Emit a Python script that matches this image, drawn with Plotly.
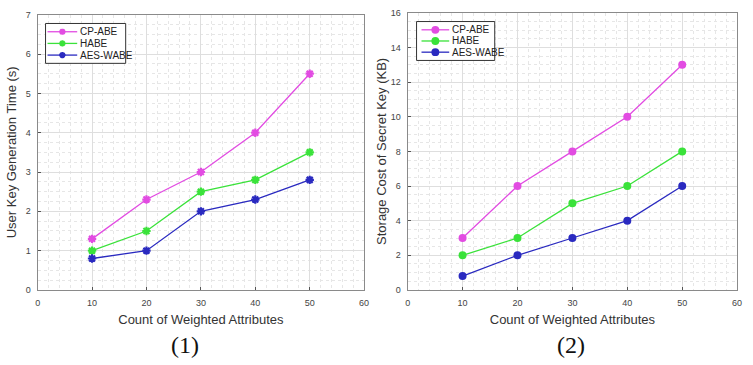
import plotly.graph_objects as go

# Data
attrs = [10, 20, 30, 40, 50]
series_names = ["CP-ABE", "HABE", "AES-WABE"]
series_colors = ["#e24ce2", "#3ae23a", "#2a2ac0"]

keygen_time = {
    "CP-ABE": [1.3, 2.3, 3.0, 4.0, 5.5],
    "HABE": [1.0, 1.5, 2.5, 2.8, 3.5],
    "AES-WABE": [0.8, 1.0, 2.0, 2.3, 2.8],
}
key_storage = {
    "CP-ABE": [3, 6, 8, 10, 13],
    "HABE": [2, 3, 5, 6, 8],
    "AES-WABE": [0.8, 2, 3, 4, 6],
}

x_ticks = [0, 10, 20, 30, 40, 50, 60]

W, H = 753, 365


def px(x):
    return x / W


def py(y):
    return 1 - y / H


fig = go.Figure()

for name, color in zip(series_names, series_colors):
    fig.add_trace(go.Scatter(
        x=attrs, y=keygen_time[name], name=name, mode="lines+markers",
        line=dict(color=color, width=1.3),
        marker=dict(symbol="asterisk-open", size=7, line=dict(color=color, width=2.2)),
        xaxis="x", yaxis="y", showlegend=False,
    ))
for name, color in zip(series_names, series_colors):
    fig.add_trace(go.Scatter(
        x=attrs, y=key_storage[name], name=name, mode="lines+markers",
        line=dict(color=color, width=1.3),
        marker=dict(symbol="circle", size=8, color=color),
        xaxis="x2", yaxis="y2", showlegend=False,
    ))

# Compact boxed legends drawn as shapes + text
shapes = []
annotations = []


def add_legend(box, rows_y, line_x, text_x, marker):
    x0, y0, x1, y1 = box
    shapes.append(dict(type="rect", xref="paper", yref="paper",
                       x0=px(x0), x1=px(x1), y0=py(y0), y1=py(y1),
                       fillcolor="white", line=dict(color="#333", width=1)))
    for name, color, ry in zip(series_names, series_colors, rows_y):
        shapes.append(dict(type="line", xref="paper", yref="paper",
                           x0=px(line_x[0]), x1=px(line_x[1]), y0=py(ry), y1=py(ry),
                           line=dict(color=color, width=1.3)))
        cx = (line_x[0] + line_x[1]) / 2
        if marker == "circle":
            r = 4
            shapes.append(dict(type="circle", xref="paper", yref="paper",
                               x0=px(cx - r), x1=px(cx + r), y0=py(ry + r), y1=py(ry - r),
                               fillcolor=color, line=dict(color=color, width=0)))
        else:
            r = 3.2
            d = r * 0.72
            path = (f"M{px(cx - r)},{py(ry)} L{px(cx + r)},{py(ry)} "
                    f"M{px(cx)},{py(ry - r)} L{px(cx)},{py(ry + r)} "
                    f"M{px(cx - d)},{py(ry - d)} L{px(cx + d)},{py(ry + d)} "
                    f"M{px(cx - d)},{py(ry + d)} L{px(cx + d)},{py(ry - d)}")
            shapes.append(dict(type="path", xref="paper", yref="paper", path=path,
                               line=dict(color=color, width=2)))
        annotations.append(dict(text=name, x=px(text_x), y=py(ry), xref="paper", yref="paper",
                                xanchor="left", yanchor="middle", showarrow=False,
                                font=dict(family="Liberation Sans, Arial", size=10, color="#222")))


add_legend((43, 19, 124, 60), (27.5, 39.5, 51.5), (45, 75), 76, "asterisk")
add_legend((418, 17, 497, 57), (25.5, 37, 48.5), (423, 451), 452, "circle")

axis_common = dict(
    showline=True, linecolor="#8a8a8a", linewidth=1, mirror=True,
    ticks="inside", ticklen=3, tickcolor="#555", tickwidth=1,
    showgrid=True, gridcolor="#dedede", gridwidth=1,
    tickfont=dict(family="Liberation Sans, Arial", size=9, color="#444"),
    zeroline=False,
)
minor_common = dict(showgrid=True, gridcolor="#e6e6e6", griddash="dot", gridwidth=1, ticks="")

title_font = dict(family="Liberation Sans, Arial", size=13, color="#333")

annotations += [
    dict(text="(1)", x=px(184), y=py(350), xref="paper", yref="paper", showarrow=False,
         xanchor="center", yanchor="middle",
         font=dict(family="Liberation Serif, Times New Roman", size=24, color="#111")),
    dict(text="(2)", x=px(574), y=py(350), xref="paper", yref="paper", showarrow=False,
         xanchor="center", yanchor="middle",
         font=dict(family="Liberation Serif, Times New Roman", size=24, color="#111")),
]

fig.update_layout(
    width=W, height=H,
    margin=dict(l=0, r=0, t=0, b=0),
    paper_bgcolor="white", plot_bgcolor="white",
    showlegend=False,
    xaxis=dict(axis_common, domain=[px(35), px(365)], range=[0, 60], tickvals=x_ticks,
               minor=dict(minor_common, dtick=2), anchor="y", ticklabelstandoff=4,
               title=dict(text="Count of Weighted Attributes", font=title_font, standoff=8)),
    yaxis=dict(axis_common, domain=[py(293), py(10)], range=[0, 7], dtick=1,
               minor=dict(minor_common, dtick=0.25), anchor="x", ticklabelstandoff=4,
               title=dict(text="User Key Generation Time (s)", font=title_font, standoff=6)),
    xaxis2=dict(axis_common, domain=[px(409), px(742)], range=[0, 60], tickvals=x_ticks,
                minor=dict(minor_common, dtick=2), anchor="y2", ticklabelstandoff=4,
                title=dict(text="Count of Weighted Attributes", font=title_font, standoff=8)),
    yaxis2=dict(axis_common, domain=[py(293), py(8)], range=[0, 16], dtick=2,
                minor=dict(minor_common, dtick=0.5), anchor="x2", ticklabelstandoff=4,
                title=dict(text="Storage Cost of Secret Key (KB)", font=title_font, standoff=1)),
    shapes=shapes,
    annotations=annotations,
)

fig.write_html("out.html")
